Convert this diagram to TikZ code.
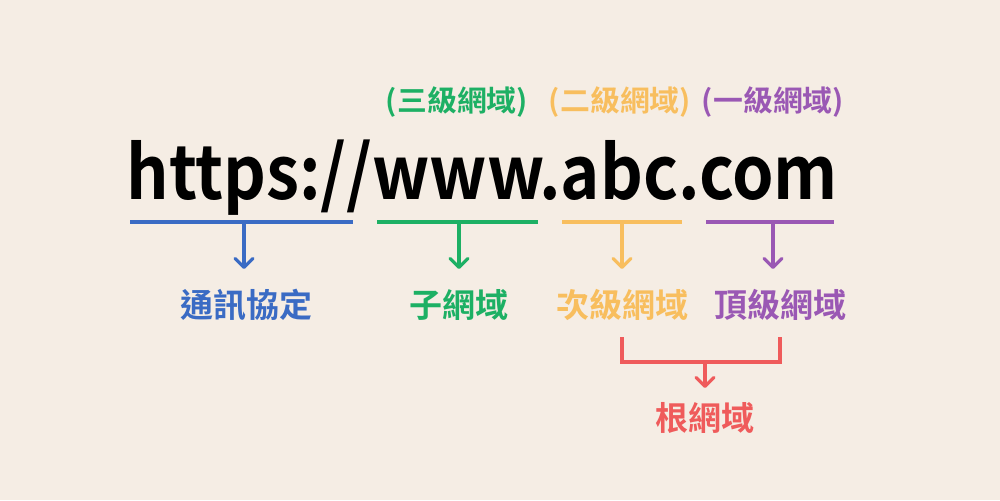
\documentclass[tikz,border=0pt]{standalone}
\usepackage{fontspec}
\setmainfont{Noto Sans CJK TC Bold}
\usetikzlibrary{arrows.meta}
\definecolor{bg}{HTML}{F5EDE4}
\definecolor{cblue}{HTML}{3A6BC4}
\definecolor{cgreen}{HTML}{1DB064}
\definecolor{corange}{HTML}{F8BE5E}
\definecolor{cpurple}{HTML}{9A58B4}
\definecolor{cred}{HTML}{EF5B5B}
\begin{document}
\begin{tikzpicture}[x=0.5pt,y=-0.5pt,
  bar/.style={line width=2pt},
  arr/.style={line width=1.6pt,line cap=round,-{Straight Barb[length=4.5pt,width=9pt,line cap=round,line join=round]}},
  lab/.style={inner sep=0pt,font=\fontsize{16.5pt}{18pt}\selectfont},
  toplab/.style={inner sep=0pt,font=\fontsize{14.5pt}{16pt}\selectfont}]
\fill[bg] (0,0) rectangle (1000,500);
\useasboundingbox (0,0) rectangle (1000,500);
\node[inner sep=0pt,anchor=base west,font=\fontsize{37pt}{40pt}\selectfont] (url) at (126,199) {\scalebox{0.9}[1]{https://www.abc.com}};
\node[toplab,text=cgreen] (t3) at (457,102) {\scalebox{1.03}[1]{(三級網域)}};
\node[toplab,text=corange] (t2) at (620,102) {\scalebox{1.03}[1]{(二級網域)}};
\node[toplab,text=cpurple] (t1) at (773,102) {\scalebox{1.03}[1]{(一級網域)}};
% bars
\coordinate (b1l) at (130,222); \coordinate (b1r) at (353,222);
\coordinate (b2l) at (377,222); \coordinate (b2r) at (538,222);
\coordinate (b3l) at (562,222); \coordinate (b3r) at (682,222);
\coordinate (b4l) at (706,222); \coordinate (b4r) at (834,222);
\draw[bar,cblue] (b1l) -- (b1r);
\draw[bar,cgreen] (b2l) -- (b2r);
\draw[bar,corange] (b3l) -- (b3r);
\draw[bar,cpurple] (b4l) -- (b4r);
\node[lab,text=cblue] (p) at (246,305) {通訊協定};
\node[lab,text=cgreen] (sub) at (459,305) {子網域};
\node[lab,text=corange] (sld) at (622,305) {次級網域};
\node[lab,text=cpurple] (tld) at (780,305) {頂級網域};
\node[lab,text=cred] (root) at (705,418) {根網域};
\coordinate (s1) at (244,223); \coordinate (e1) at (244,269);
\coordinate (s2) at (459,223); \coordinate (e2) at (459,269);
\coordinate (s3) at (622,223); \coordinate (e3) at (622,269);
\coordinate (s4) at (773,223); \coordinate (e4) at (773,269);
\draw[arr,cblue] (s1) -- (e1);
\draw[arr,cgreen] (s2) -- (e2);
\draw[arr,corange] (s3) -- (e3);
\draw[arr,cpurple] (s4) -- (e4);
% red bracket
\coordinate (ra) at (622,337); \coordinate (rb) at (622,362);
\coordinate (rc) at (780,362); \coordinate (rd) at (780,337);
\coordinate (rm) at (705,362); \coordinate (re) at (705,388);
\draw[line width=1.6pt,cred] (ra) -- (rb) -- (rc) -- (rd);
\draw[arr,cred] (rm) -- (re);
\end{tikzpicture}
\end{document}
